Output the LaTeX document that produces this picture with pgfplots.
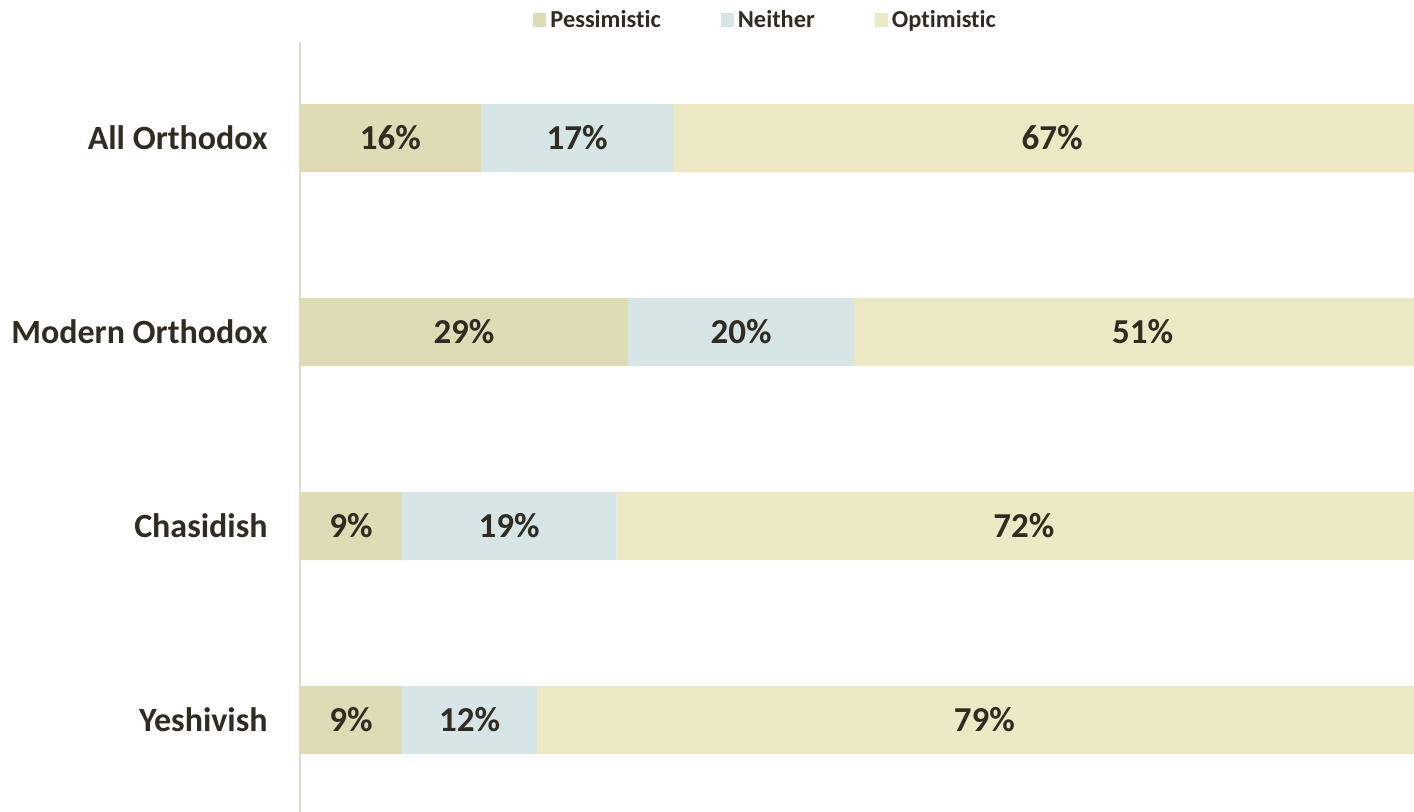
\documentclass[border=0pt]{standalone}
\usepackage{fontspec}
\setmainfont{Carlito}[Ligatures=NoCommon]
\usepackage{pgfplots}
\pgfplotsset{compat=1.18}
\usepackage{pgfplotstable}
\definecolor{pess}{RGB}{223,219,181}
\definecolor{neit}{RGB}{214,229,229}
\definecolor{opti}{RGB}{237,233,196}
\definecolor{txt}{RGB}{49,44,34}
\definecolor{axl}{RGB}{222,219,210}
\pgfplotstableread{
idx pess neit opti
0 16 17 67
1 29 20 51
2 9 19 72
3 9 12 79
}\data
\begin{document}
\begin{tikzpicture}[x=1pt,y=1pt]
\clip (0,0) rectangle (707,406);
\begin{axis}[at={(150pt,0pt)}, anchor=south west, scale only axis,
  width=565.5pt, height=385pt,
  xbar stacked, bar width=34pt,
  xmin=0, xmax=100, ymin=-0.495, ymax=3.474, y dir=reverse,
  axis x line=none, axis y line*=left,
  y axis line style={draw=axl, line width=0.9pt},
  ytick={0,1,2,3},
  yticklabels={All Orthodox, Modern Orthodox, Chasidish, Yeshivish},
  yticklabel style={font=\fontsize{17}{19}\selectfont\bfseries, text=txt, inner sep=0pt, xshift=-16pt},
  major tick length=0pt, xtick=\empty,
  point meta=explicit symbolic,
  nodes near coords={\pgfplotspointmeta\%},
  every node near coord/.append style={anchor=center, font=\fontsize{17.5}{19}\selectfont\bfseries, text=txt},
  legend style={at={(0.4125,1.0286)}, anchor=center, draw=none, fill=none,
    legend columns=3, font=\fontsize{12.2}{14}\selectfont\bfseries, text=txt,
    /tikz/every even column/.append style={column sep=28pt}},
  legend image code/.code={\fill[#1] (0pt,-3.3pt) rectangle (6.6pt,3.3pt);},
]
\addplot[fill=pess, draw=none] table[x=pess, y=idx, meta=pess] \data;
\addplot[fill=neit, draw=none] table[x=neit, y=idx, meta=neit] \data;
\addplot[fill=opti, draw=none] table[x=opti, y=idx, meta=opti] \data;
\legend{Pessimistic, Neither, Optimistic}
\end{axis}
\end{tikzpicture}
\end{document}
